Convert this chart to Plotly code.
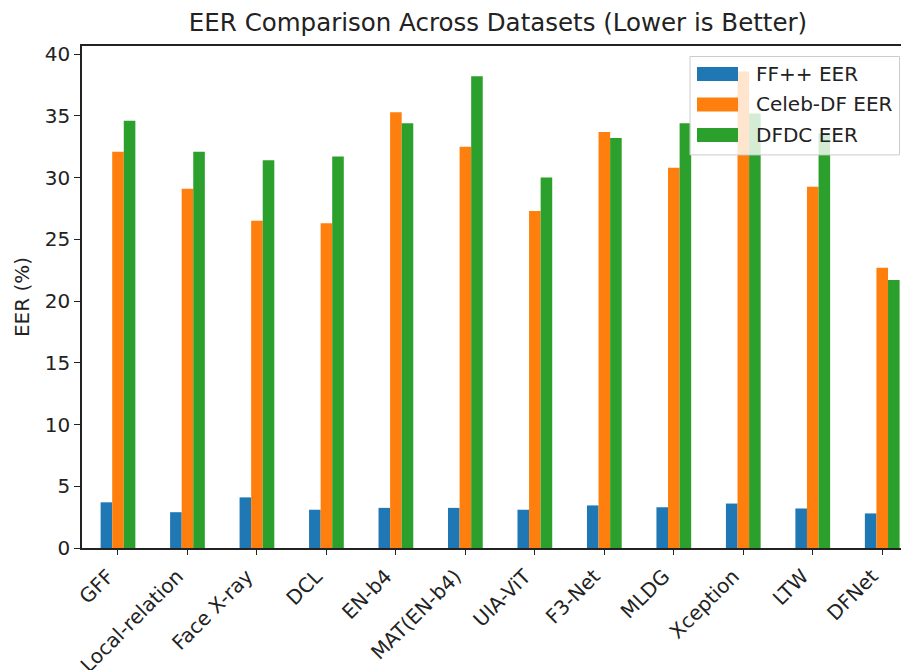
import plotly.graph_objects as go

methods = ["GFF", "Local-relation", "Face X-ray", "DCL", "EN-b4", "MAT(EN-b4)",
           "UIA-ViT", "F3-Net", "MLDG", "Xception", "LTW", "DFNet"]
ffpp_eer = [3.7, 2.9, 4.1, 3.1, 3.25, 3.25, 3.1, 3.45, 3.3, 3.6, 3.2, 2.8]
celebdf_eer = [32.1, 29.1, 26.5, 26.3, 35.3, 32.5, 27.3, 33.7, 30.8, 38.6, 29.25, 22.7]
dfdc_eer = [34.6, 32.1, 31.4, 31.7, 34.4, 38.2, 30.0, 33.2, 34.4, 35.2, 33.6, 21.7]
series_names = ["FF++ EER", "Celeb-DF EER", "DFDC EER"]
colors = ["#1f77b4", "#ff7f0e", "#2ca02c"]
yticks = [0, 5, 10, 15, 20, 25, 30, 35, 40]

W, H = 901, 670
L, R, T, B = 82, 0, 46, 121.5
FONT = "DejaVu Sans"

fig = go.Figure()
for name, vals, col in zip(series_names, [ffpp_eer, celebdf_eer, dfdc_eer], colors):
    fig.add_trace(go.Bar(x=methods, y=vals, name=name, marker=dict(color=col, line=dict(width=0)),
                         showlegend=False))

# helpers to convert pixel to paper coords
pw = W - L - R
ph = H - T - B
def px(x):
    return (x - L) / pw
def py(y):
    return (H - B - y) / ph

shapes = []
annotations = []
# legend box (semi-transparent like matplotlib)
shapes.append(dict(type="rect", xref="paper", yref="paper", x0=px(690), x1=px(899.5),
                   y0=py(155), y1=py(56.5), fillcolor="rgba(255,255,255,0.8)",
                   line=dict(color="#cccccc", width=1), layer="above"))
row_y = [74, 104.5, 135]
for name, col, yc in zip(series_names, colors, row_y):
    shapes.append(dict(type="rect", xref="paper", yref="paper", x0=px(697), x1=px(738),
                       y0=py(yc + 7), y1=py(yc - 7), fillcolor=col, line=dict(width=0),
                       layer="above"))
    annotations.append(dict(text=name, xref="paper", yref="paper", x=px(754), y=py(yc),
                            xanchor="left", yanchor="middle", showarrow=False,
                            font=dict(family=FONT, size=20, color="#222222")))

fig.update_layout(
    width=W, height=H,
    margin=dict(l=L, r=R, t=T, b=B, pad=0, autoexpand=False),
    paper_bgcolor="white", plot_bgcolor="white",
    barmode="group", bargap=0.5, bargroupgap=0,
    font=dict(family=FONT, size=20, color="#222222"),
    title=dict(text="EER Comparison Across Datasets (Lower is Better)",
               x=498 / W, xanchor="center", xref="container",
               y=1 - 22 / H, yanchor="middle", yref="container",
               font=dict(family=FONT, size=24.5, color="#222222")),
    shapes=shapes,
    annotations=annotations,
)
fig.update_xaxes(
    type="category", range=[-0.518, 11.27], showgrid=False, zeroline=False,
    automargin=False,
    showline=True, linecolor="#222222", linewidth=1.5, mirror=True,
    ticks="outside", ticklen=5, tickwidth=1.3, tickcolor="#222222",
    tickangle=-45, ticklabelshift=-10, ticklabelstandoff=2,
    tickfont=dict(family=FONT, size=20, color="#222222"),
)
fig.update_yaxes(
    range=[0, 40.66], tickvals=yticks, showgrid=False, zeroline=False,
    automargin=False,
    showline=True, linecolor="#222222", linewidth=1.5,
    ticks="outside", ticklen=6, tickwidth=1.3, tickcolor="#222222",
    tickfont=dict(family=FONT, size=20, color="#222222"),
    title=dict(text="EER (%)", standoff=10, font=dict(family=FONT, size=20, color="#222222")),
)

fig.write_html("out.html", config={"displayModeBar": False},
               post_script="document.body.style.margin='0';document.body.style.overflow='hidden';")
